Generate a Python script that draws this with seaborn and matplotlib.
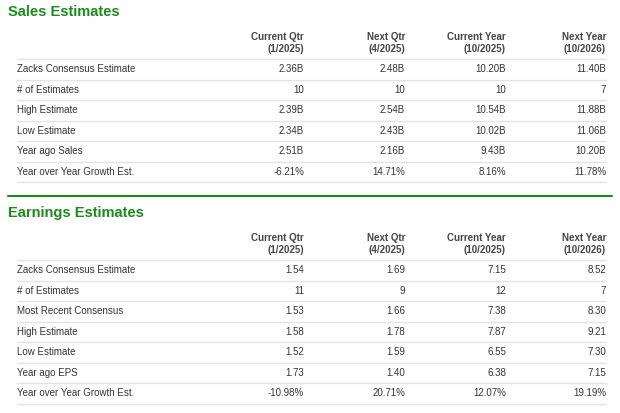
import matplotlib
matplotlib.use("Agg")
import matplotlib.pyplot as plt
import seaborn as sns

sns.set_theme(style="white", font="Liberation Sans")

columns = ["Current Qtr\n(1/2025)", "Next Qtr\n(4/2025)", "Current Year\n(10/2025)", "Next Year\n(10/2026)"]

sales_rows = ["Zacks Consensus Estimate", "# of Estimates", "High Estimate", "Low Estimate",
              "Year ago Sales", "Year over Year Growth Est."]
sales_values = [
    ["2.36B", "2.48B", "10.20B", "11.40B"],
    ["10", "10", "10", "7"],
    ["2.39B", "2.54B", "10.54B", "11.88B"],
    ["2.34B", "2.43B", "10.02B", "11.06B"],
    ["2.51B", "2.16B", "9.43B", "10.20B"],
    ["-6.21%", "14.71%", "8.16%", "11.78%"],
]

earn_rows = ["Zacks Consensus Estimate", "# of Estimates", "Most Recent Consensus", "High Estimate",
             "Low Estimate", "Year ago EPS", "Year over Year Growth Est."]
earn_values = [
    ["1.54", "1.69", "7.15", "8.52"],
    ["11", "9", "12", "7"],
    ["1.53", "1.66", "7.38", "8.30"],
    ["1.58", "1.78", "7.87", "9.21"],
    ["1.52", "1.59", "6.55", "7.30"],
    ["1.73", "1.40", "6.38", "7.15"],
    ["-10.98%", "20.71%", "12.07%", "19.19%"],
]

W, H = 620, 413
fig = plt.figure(figsize=(6.2, 4.13), dpi=100, facecolor="white")
ax = fig.add_axes([0, 0, 1, 1])
ax.set_xlim(0, W)
ax.set_ylim(H, 0)
ax.axis("off")

green = "#1a8a1a"
txt = "#333333"
grid = "#e3e3e3"
col_x = [304, 405, 506, 606]
fs = 7

def section(title, top, rows, values):
    ax.text(8, top + 12, title, color=green, fontsize=10.5, fontweight="bold", va="center")
    for x, c in zip(col_x, columns):
        ax.text(x, top + 43, c, ha="right", va="center", fontsize=fs, fontweight="bold",
                color="#444444", linespacing=1.35)
    y = top + 59
    ax.plot([17, 606], [y, y], color=grid, lw=1)
    for r, vals in zip(rows, values):
        yc = y + 10.3
        ax.text(17, yc, r, va="center", fontsize=fs, color=txt)
        for x, v in zip(col_x, vals):
            ax.text(x, yc, v, ha="right", va="center", fontsize=fs, color=txt)
        y += 20.5
        ax.plot([17, 606], [y, y], color=grid, lw=1)

section("Sales Estimates", 0, sales_rows, sales_values)
ax.plot([8, 612], [196, 196], color=green, lw=1.5)
section("Earnings Estimates", 201, earn_rows, earn_values)

fig.savefig("out.png", dpi=100, facecolor="white")
